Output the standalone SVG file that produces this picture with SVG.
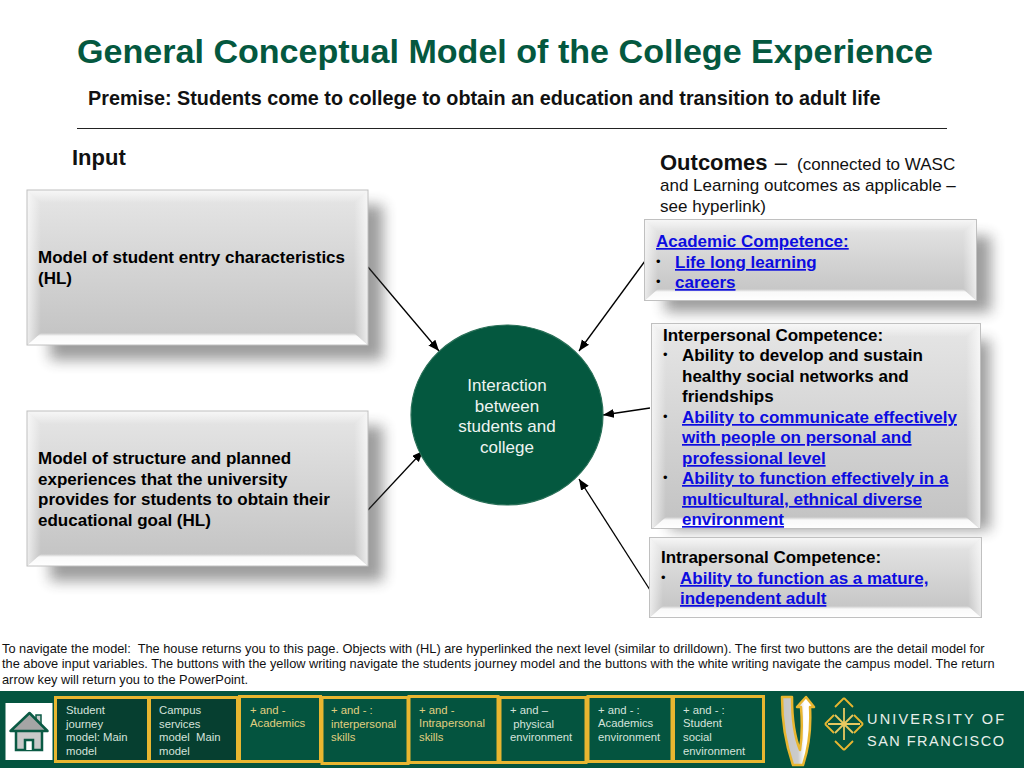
<svg xmlns="http://www.w3.org/2000/svg" width="1024" height="768" viewBox="0 0 1024 768">
<style>
text{font-family:"Liberation Sans",Arial,sans-serif;white-space:pre}
.b{font-weight:700;font-size:17px;fill:#000}
.l{font-weight:700;font-size:17px;fill:#0c0ce0;text-decoration:underline}
.d{font-size:13px;fill:#000}
.note{font-size:12.800px;fill:#111}
.g{font-size:11.300px;fill:#d5e3dc}
.y{font-size:11.300px;fill:#e0cf80}
.face{fill:url(#face)}
.edge{fill:none;stroke:#c0c0c0;stroke-width:1}
.top{fill:url(#fT)}
.bot{fill:url(#fB)}
.sl{fill:url(#fL)}
.sr{fill:url(#fR)}
.sh{fill:#333;opacity:.48;filter:url(#blur)}
.frame{stroke:#e8b630;stroke-width:3;fill:#04543f}
.dark{fill:#063f30}
.ar{fill:none;stroke:#000;stroke-width:1.300;marker-end:url(#ah)}
</style>
<defs>
<linearGradient id="face" x1="0" y1="0" x2="0" y2="1"><stop offset="0" stop-color="#e6e6e6"/><stop offset="1" stop-color="#c2c2c2"/></linearGradient>
<linearGradient id="fT" x1="0" y1="0" x2="0" y2="1"><stop offset="0" stop-color="#fff" stop-opacity=".7"/><stop offset="1" stop-color="#fff" stop-opacity="0"/></linearGradient>
<linearGradient id="fB" x1="0" y1="1" x2="0" y2="0"><stop offset="0" stop-color="#fff"/><stop offset=".75" stop-color="#fff" stop-opacity=".9"/><stop offset="1" stop-color="#fff" stop-opacity="0"/></linearGradient>
<linearGradient id="fL" x1="0" y1="0" x2="1" y2="0"><stop offset="0" stop-color="#fff" stop-opacity=".7"/><stop offset="1" stop-color="#fff" stop-opacity="0"/></linearGradient>
<linearGradient id="fR" x1="1" y1="0" x2="0" y2="0"><stop offset="0" stop-color="#fff" stop-opacity=".7"/><stop offset="1" stop-color="#fff" stop-opacity="0"/></linearGradient>
<linearGradient id="uG" x1="0" y1="0" x2="1" y2="0"><stop offset="0" stop-color="#c4c4c4"/><stop offset=".5" stop-color="#ccc"/><stop offset=".7" stop-color="#fff"/><stop offset="1" stop-color="#fff"/></linearGradient>
<filter id="blur" x="-20%" y="-30%" width="140%" height="160%"><feGaussianBlur stdDeviation="7"/></filter>
<marker id="ah" markerWidth="12" markerHeight="10" refX="11" refY="4.500" orient="auto" markerUnits="userSpaceOnUse"><path d="M0 0L11 4.500L0 9Z" fill="#000"/></marker>
</defs>
<rect width="1024" height="768" fill="#fff"/>
<text x="77" y="63" font-size="34.100" font-weight="700" fill="#04583f">General Conceptual Model of the College Experience</text>
<text x="88" y="105" font-size="19.800" font-weight="700" fill="#111">Premise: Students come to college to obtain an education and transition to adult life</text>
<line x1="77" y1="128.500" x2="947" y2="128.500" stroke="#222" stroke-width="1"/>
<text x="72" y="165" font-size="22" font-weight="700" fill="#111">Input</text>
<g id="outcomes-heading" fill="#111">
<text x="660" y="170"><tspan font-size="22" font-weight="700">Outcomes </tspan><tspan font-size="22" dx="1">– </tspan><tspan font-size="17" dx="4">(connected to WASC</tspan></text>
<text x="660" y="191" font-size="17">and Learning outcomes as applicable –</text>
<text x="660" y="212" font-size="17">see hyperlink)</text>
</g>
<g id="connectors">
<path class="ar" d="M368 267L439 351"/>
<path class="ar" d="M368 510L423 451"/>
<path class="ar" d="M645 261L579 351"/>
<path class="ar" d="M650 408L603 415"/>
<path class="ar" d="M650 590L579 479"/>
</g>
<g id="node-entry">
<rect class="sh" x="50" y="205" width="333" height="155"/>
<rect class="face" x="27" y="190" width="341" height="155"/>
<polygon class="top" points="27,190 368,190 354,203 41,203"/>
<polygon class="bot" points="27,345 368,345 354,333 41,333"/>
<polygon class="sl" points="27,190 41,203 41,333 27,345"/>
<polygon class="sr" points="368,190 354,203 354,333 368,345"/>
<rect class="edge" x="27" y="190" width="341" height="155"/>
<text class="b" x="38" y="263">Model of student entry characteristics</text>
<text class="b" x="38" y="284">(HL)</text>
</g>
<g id="node-structure">
<rect class="sh" x="50" y="426" width="333" height="155"/>
<rect class="face" x="27" y="411" width="341" height="155"/>
<polygon class="top" points="27,411 368,411 354,424 41,424"/>
<polygon class="bot" points="27,566 368,566 354,554 41,554"/>
<polygon class="sl" points="27,411 41,424 41,554 27,566"/>
<polygon class="sr" points="368,411 354,424 354,554 368,566"/>
<rect class="edge" x="27" y="411" width="341" height="155"/>
<text class="b" x="38" y="464">Model of structure and planned</text>
<text class="b" x="38" y="484.500">experiences that the university</text>
<text class="b" x="38" y="505">provides for students to obtain their</text>
<text class="b" x="38" y="525.500">educational goal (HL)</text>
</g>
<g id="node-interaction">
<ellipse cx="507" cy="415" rx="96" ry="90" fill="#04583f" stroke="#2a7058" stroke-width="1.200"/>
<g fill="#eef4f1" font-size="17" text-anchor="middle">
<text x="507" y="391">Interaction</text>
<text x="507" y="412">between</text>
<text x="507" y="432">students and</text>
<text x="507" y="453">college</text>
</g>
</g>
<g id="node-academic">
<rect class="sh" x="665" y="236" width="326" height="76"/>
<rect class="face" x="644.500" y="219.500" width="332" height="81"/>
<polygon class="top" points="644,219 977,219 963,232 658,232"/>
<polygon class="bot" points="644,301 977,301 963,289 658,289"/>
<polygon class="sl" points="644,219 658,232 658,289 644,301"/>
<polygon class="sr" points="977,219 963,232 963,289 977,301"/>
<rect class="edge" x="644.500" y="219.500" width="332" height="81"/>
<text class="l" x="656" y="247">Academic Competence:</text>
<text class="d" x="656" y="266">•</text><text class="l" x="675" y="268">Life long learning</text>
<text class="d" x="656" y="286">•</text><text class="l" x="675" y="288">careers</text>
</g>
<g id="node-interpersonal">
<rect class="sh" x="670" y="340" width="320" height="190"/>
<rect class="face" x="651.500" y="323.500" width="329" height="205"/>
<polygon class="top" points="652,324 980,324 966,337 666,337"/>
<polygon class="bot" points="652,529 980,529 966,517 666,517"/>
<polygon class="sl" points="652,324 666,337 666,517 652,529"/>
<polygon class="sr" points="980,324 966,337 966,517 980,529"/>
<rect class="edge" x="651.500" y="323.500" width="329" height="205"/>
<text class="b" x="663" y="341">Interpersonal Competence:</text>
<text class="d" x="663" y="359">•</text><text class="b" x="682" y="361">Ability to develop and sustain</text>
<text class="b" x="682" y="382">healthy social networks and</text>
<text class="b" x="682" y="402">friendships</text>
<text class="d" x="663" y="421">•</text><text class="l" x="682" y="423">Ability to communicate effectively</text>
<text class="l" x="682" y="443">with people on personal and</text>
<text class="l" x="682" y="464">professional level</text>
<text class="d" x="663" y="482">•</text><text class="l" x="682" y="484">Ability to function effectively in a</text>
<text class="l" x="682" y="505">multicultural, ethnical diverse</text>
<text class="l" x="682" y="525">environment</text>
</g>
<g id="node-intrapersonal">
<rect class="face" x="649.500" y="537.500" width="332" height="80"/>
<polygon class="top" points="649,537 982,537 968,550 663,550"/>
<polygon class="bot" points="649,618 982,618 968,606 663,606"/>
<polygon class="sl" points="649,537 663,550 663,606 649,618"/>
<polygon class="sr" points="982,537 968,550 968,606 982,618"/>
<rect class="edge" x="649.500" y="537.500" width="332" height="80"/>
<text class="b" x="661" y="563">Intrapersonal Competence:</text>
<text class="d" x="661" y="582">•</text><text class="l" x="680" y="584">Ability to function as a mature,</text>
<text class="l" x="680" y="604">independent adult</text>
</g>
<g id="navigation-note">
<text class="note" x="2" y="653">To navigate the model:  The house returns you to this page. Objects with (HL) are hyperlinked the next level (similar to drilldown). The first two buttons are the detail model for</text>
<text class="note" x="2" y="668">the above input variables. The buttons with the yellow writing navigate the students journey model and the buttons with the white writing navigate the campus model. The return</text>
<text class="note" x="2" y="684">arrow key will return you to the PowerPoint.</text>
</g>
<rect id="footer-band" x="0" y="691" width="1024" height="77" fill="#04543f"/>
<g id="node-home">
<rect x="5.500" y="703" width="47" height="57" fill="#fff"/>
<rect x="36" y="715" width="5" height="9" fill="#c9c9c9" stroke="#0a5a44" stroke-width="1.500"/>
<path d="M16 731V750H42V731" fill="#c9c9c9" stroke="#0a5a44" stroke-width="2.500"/>
<path d="M10.500 731L29.500 713L47.500 731Z" fill="#a5a5a5" stroke="#0a5a44" stroke-width="2.500" stroke-linejoin="round"/>
<path d="M25 750V740H33V750" fill="#fff" stroke="#0a5a44" stroke-width="2.500"/>
</g>
<g id="btn-student-journey"><rect class="frame dark" x="55.500" y="697.500" width="93" height="64"/>
<text class="g" x="66" y="714">Student</text><text class="g" x="66" y="728">journey</text><text class="g" x="66" y="741">model: Main</text><text class="g" x="66" y="755">model</text></g>
<g id="btn-campus-services"><rect class="frame dark" x="149.500" y="697.500" width="88" height="64"/>
<text class="g" x="159" y="714">Campus</text><text class="g" x="159" y="728">services</text><text class="g" x="159" y="741">model  Main</text><text class="g" x="159" y="755">model</text></g>
<g id="btn-academics"><rect class="frame" x="239.500" y="696.500" width="81" height="65"/>
<text class="y" x="250" y="714">+ and -</text><text class="y" x="250" y="727">Academics</text></g>
<g id="btn-interpersonal"><rect class="frame" x="322" y="697.500" width="86" height="66"/>
<text class="y" x="331" y="714">+ and - :</text><text class="y" x="331" y="728">interpersonal</text><text class="y" x="331" y="741">skills</text></g>
<g id="btn-intrapersonal"><rect class="frame" x="409" y="696.500" width="89" height="66"/>
<text class="y" x="419" y="714">+ and -</text><text class="y" x="419" y="727">Intrapersonal</text><text class="y" x="419" y="741">skills</text></g>
<g id="btn-physical"><rect class="frame" x="500" y="697.500" width="86" height="65"/>
<text class="g" x="510" y="714">+ and –</text><text class="g" x="510" y="728"> physical</text><text class="g" x="510" y="741">environment</text></g>
<g id="btn-academics-env"><rect class="frame" x="588" y="696.500" width="84" height="65"/>
<text class="g" x="598" y="714">+ and - :</text><text class="g" x="598" y="727">Academics</text><text class="g" x="598" y="741">environment</text></g>
<g id="btn-social-env"><rect class="frame" x="673.500" y="696.500" width="90" height="65"/>
<text class="g" x="683" y="714">+ and - :</text><text class="g" x="683" y="727">Student</text><text class="g" x="683" y="741">social</text><text class="g" x="683" y="755">environment</text></g>
<g id="node-return">
<path d="M782 697H792C792 720 795 738 800 750C802 738 802 720 801 707H797L806 697L814 707H810C811 725 809 747 803 765H793C786 745 782 720 782 697Z" fill="url(#uG)" stroke="#e8b630" stroke-width="2.500" stroke-linejoin="round"/>
</g>
<g id="usf-logo">
<g fill="none" stroke="#e8b630" stroke-width="1.800">
<path d="M844 698L835 707M844 698L853 707"/>
<path d="M844 750L835 741M844 750L853 741"/>
<path d="M825 724L834 715M825 724L834 733"/>
<path d="M863 724L854 715M863 724L854 733"/>
<path d="M844 708V740M828 724H860M835 715L853 733M853 715L835 733" stroke="#e8c860"/>
</g>
<g fill="#e8efea" font-size="14.500">
<text x="867" y="724" textLength="137" lengthAdjust="spacing">UNIVERSITY OF</text>
<text x="867" y="746" textLength="137" lengthAdjust="spacing">SAN FRANCISCO</text>
</g>
</g>
</svg>
